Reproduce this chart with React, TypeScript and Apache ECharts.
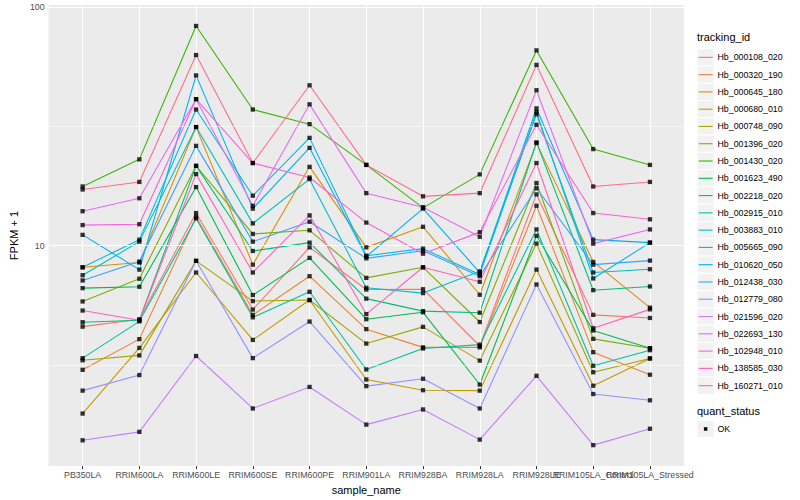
import React, { useEffect, useRef } from "react";
import * as echarts from "echarts";

const categories = [
  "PB350LA", "RRIM600LA", "RRIM600LE", "RRIM600SE", "RRIM600PE", "RRIM901LA",
  "RRIM928BA", "RRIM928LA", "RRIM928LE", "RRIM105LA_Control", "RRIM105LA_Stressed",
];

const trackingIds = [
  "Hb_000108_020", "Hb_000320_190", "Hb_000645_180", "Hb_000680_010", "Hb_000748_090",
  "Hb_001396_020", "Hb_001430_020", "Hb_001623_490", "Hb_002218_020", "Hb_002915_010",
  "Hb_003883_010", "Hb_005665_090", "Hb_010620_050", "Hb_012438_030", "Hb_012779_080",
  "Hb_021596_020", "Hb_022693_130", "Hb_102948_010", "Hb_138585_030", "Hb_160271_010",
];

const colors = [
  "#F8766D", "#EA8331", "#D89000", "#C09B00", "#A3A500",
  "#7CAE00", "#39B600", "#00BB4E", "#00BF7D", "#00C1A3",
  "#00BFC4", "#00BAE0", "#00B0F6", "#35A2FF", "#9590FF",
  "#C77CFF", "#E76BF3", "#FA62DB", "#FF62BC", "#FF6C91",
];

// FPKM + 1 per sample (same order as categories)
const hb_000108_020 = [4.58, 4.92, 13.7, 5.4, 9.84, 6.55, 6.57, 3.8, 16.4, 5.13, 4.98];
const hb_000320_190 = [3.02, 4.06, 13.2, 5.13, 7.45, 4.47, 3.75, 3.75, 14.7, 3.58, 2.88];
const hb_000645_180 = [8.12, 8.5, 31.4, 8.33, 21.4, 9.84, 12.0, 6.23, 26.9, 8.55, 5.5];
const hb_000680_010 = [1.98, 3.73, 7.72, 4.03, 5.92, 2.75, 2.48, 2.47, 7.94, 2.59, 3.37];
const hb_000748_090 = [3.31, 3.47, 8.64, 5.86, 5.92, 3.89, 4.57, 3.3, 10.2, 2.95, 3.37];
const hb_001396_020 = [5.84, 7.27, 21.6, 11.2, 11.6, 7.33, 8.12, 4.79, 18.3, 4.07, 3.72];
const hb_001430_020 = [17.7, 23.0, 83.3, 37.2, 32.3, 21.8, 14.4, 19.9, 65.8, 25.4, 21.8];
const hb_001623_490 = [6.64, 6.73, 17.6, 6.21, 8.89, 4.92, 5.26, 2.62, 11.0, 4.41, 3.72];
const hb_002218_020 = [4.78, 4.87, 21.6, 9.5, 10.3, 6.0, 5.32, 5.24, 27.1, 6.51, 6.75];
const hb_002915_010 = [3.38, 4.82, 13.0, 5.01, 6.41, 3.03, 3.71, 3.85, 11.7, 3.14, 3.65];
const hb_003883_010 = [7.52, 10.4, 31.4, 12.4, 19.0, 6.66, 6.33, 7.81, 35.5, 7.72, 7.97];
const hb_005665_090 = [8.12, 10.6, 37.2, 16.2, 28.3, 9.08, 9.72, 7.57, 36.3, 7.29, 10.3];
const hb_010620_050 = [11.1, 7.94, 51.7, 14.3, 25.7, 9.0, 14.3, 7.72, 37.6, 10.6, 10.3];
const hb_012438_030 = [7.15, 8.58, 26.2, 10.4, 12.6, 8.85, 9.53, 7.45, 17.4, 8.33, 8.66];
const hb_012779_080 = [2.47, 2.87, 8.64, 3.38, 4.81, 2.58, 2.77, 2.08, 6.88, 2.39, 2.25];
const hb_021596_020 = [1.53, 1.66, 3.45, 2.08, 2.56, 1.78, 2.06, 1.54, 2.85, 1.46, 1.71];
const hb_022693_130 = [13.95, 15.8, 41.1, 14.7, 39.1, 16.6, 14.5, 10.9, 44.8, 10.2, 11.7];
const hb_102948_010 = [12.2, 12.3, 41.1, 22.2, 19.3, 12.5, 9.26, 11.4, 32.1, 13.7, 12.9];
const hb_138585_030 = [5.35, 4.87, 19.95, 7.72, 13.4, 5.17, 8.12, 7.06, 22.2, 4.51, 5.41];
const hb_160271_010 = [17.2, 18.5, 62.9, 22.2, 47.0, 21.8, 16.1, 16.6, 57.2, 17.7, 18.5];

const seriesValues = [
  hb_000108_020, hb_000320_190, hb_000645_180, hb_000680_010, hb_000748_090,
  hb_001396_020, hb_001430_020, hb_001623_490, hb_002218_020, hb_002915_010,
  hb_003883_010, hb_005665_090, hb_010620_050, hb_012438_030, hb_012779_080,
  hb_021596_020, hb_022693_130, hb_102948_010, hb_138585_030, hb_160271_010,
];

const yMajor = [1, 2]; // log10 of 10, 100
const yMinor = [0.5, 1.5];

const FONT = "'Liberation Sans', Arial, Helvetica, sans-serif";

export default function App() {
  const ref = useRef<HTMLDivElement>(null);

  useEffect(() => {
    if (!ref.current) return;
    const chart = echarts.init(ref.current, undefined, { renderer: "svg" });

    const allLogs = seriesValues.flat().map((v) => Math.log10(v));
    const lo = Math.min(...allLogs);
    const hi = Math.max(...allLogs);
    const pad = (hi - lo) * 0.05;
    const yMin = lo - pad;
    const yMax = hi + pad;
    const nCat = categories.length;
    const catIdx = categories.map((_, i) => i);
    const evenIdx = catIdx.filter((i) => i % 2 === 0);
    const oddIdx = catIdx.filter((i) => i % 2 === 1);

    const gridLines: any[] = [
      ...yMajor.map((v) => ({ yAxis: v, lineStyle: { width: 1.1 } })),
      ...yMinor.map((v) => ({ yAxis: v, lineStyle: { width: 0.55 } })),
      ...catIdx.map((i) => ({ xAxis: i, lineStyle: { width: 1.1 } })),
    ];

    const lineSeries = seriesValues.map((vals, si) => ({
      name: trackingIds[si],
      type: "line",
      z: 3,
      showSymbol: false,
      symbol: "none",
      silent: true,
      data: vals.map((v, i) => [i, Math.log10(v)]),
      lineStyle: { color: colors[si], width: 1.1 },
      itemStyle: { color: colors[si] },
    }));

    const points = seriesValues.flatMap((vals) => vals.map((v, i) => [i, Math.log10(v)]));

    const legendRow = 17.28;
    const legendTop = 48.7;
    const legendX = 697;
    const legendGraphics: any[] = [
      {
        type: "text",
        left: legendX,
        top: 31,
        style: { text: "tracking_id", font: `11px ${FONT}`, fill: "#000" },
      },
    ];
    trackingIds.forEach((name, i) => {
      const y = legendTop + i * legendRow;
      legendGraphics.push({
        type: "rect",
        shape: { x: legendX, y, width: 17.28, height: 17.28 },
        style: { fill: "#F2F2F2", stroke: "#FFFFFF", lineWidth: 1 },
      });
      legendGraphics.push({
        type: "line",
        shape: { x1: legendX + 1.7, y1: y + 8.64, x2: legendX + 15.6, y2: y + 8.64 },
        style: { stroke: colors[i], lineWidth: 1.1 },
      });
      legendGraphics.push({
        type: "text",
        x: legendX + 20.5,
        y: y + 8.64,
        style: {
          text: name,
          font: `8.8px ${FONT}`,
          fill: "#000",
          textVerticalAlign: "middle",
          verticalAlign: "middle",
        },
      });
    });
    const qTop = 420.3;
    legendGraphics.push(
      {
        type: "text",
        left: legendX,
        top: 405,
        style: { text: "quant_status", font: `11px ${FONT}`, fill: "#000" },
      },
      {
        type: "rect",
        shape: { x: legendX, y: qTop, width: 17.28, height: 17.28 },
        style: { fill: "#F2F2F2", stroke: "#FFFFFF", lineWidth: 1 },
      },
      {
        type: "rect",
        shape: { x: legendX + 6.9, y: qTop + 6.9, width: 3.5, height: 3.5 },
        style: { fill: "#000" },
      },
      {
        type: "text",
        x: legendX + 20.5,
        y: qTop + 8.64,
        style: {
          text: "OK",
          font: `8.8px ${FONT}`,
          fill: "#000",
          textVerticalAlign: "middle",
          verticalAlign: "middle",
        },
      }
    );

    const xAxisBase = (vals: number[], withName: boolean) => ({
      type: "value",
      gridIndex: 0,
      position: "bottom",
      offset: 0,
      min: -0.6,
      max: nCat - 1 + 0.6,
      name: withName ? "sample_name" : "",
      nameLocation: "middle",
      nameGap: 11,
      nameTextStyle: { fontSize: 11, color: "#000", fontFamily: FONT },
      axisLine: { show: false },
      splitLine: { show: false },
      axisTick: {
        show: true,
        customValues: vals,
        length: 3,
        lineStyle: { color: "#333333", width: 1 },
      },
      axisLabel: {
        show: true,
        customValues: vals,
        formatter: (v: number) => categories[Math.round(v)] ?? "",
        fontSize: 8.8,
        color: "#4D4D4D",
        margin: 4,
        hideOverlap: false,
        showMinLabel: true,
        showMaxLabel: true,
        fontFamily: FONT,
      },
    });

    chart.setOption({
      animation: false,
      backgroundColor: "#FFFFFF",
      textStyle: { fontFamily: FONT },
      grid: {
        left: 40,
        right: 116,
        top: 5,
        bottom: 31,
        show: true,
        backgroundColor: "#EBEBEB",
        borderWidth: 0,
        containLabel: false,
      },
      xAxis: [xAxisBase(evenIdx, true), xAxisBase(oddIdx, false)],
      yAxis: {
        type: "value",
        min: yMin,
        max: yMax,
        name: "FPKM + 1",
        nameLocation: "middle",
        nameGap: 22,
        nameTextStyle: { fontSize: 11, color: "#000", fontFamily: FONT },
        axisLine: { show: false },
        splitLine: { show: false },
        axisTick: {
          show: true,
          customValues: yMajor,
          length: 3,
          lineStyle: { color: "#333333", width: 1 },
        },
        axisLabel: {
          show: true,
          customValues: yMajor,
          formatter: (v: number) => String(Math.round(Math.pow(10, v))),
          fontSize: 8.8,
          color: "#4D4D4D",
          margin: 4,
          showMinLabel: true,
          showMaxLabel: true,
          fontFamily: FONT,
        },
      },
      graphic: legendGraphics,
      series: [
        {
          type: "line",
          z: 1,
          silent: true,
          symbol: "none",
          showSymbol: false,
          data: [[0, (yMin + yMax) / 2]],
          lineStyle: { opacity: 0 },
          markLine: {
            silent: true,
            symbol: "none",
            label: { show: false },
            lineStyle: { color: "#FFFFFF", type: "solid" },
            emphasis: { disabled: true },
            data: gridLines,
          },
        },
        ...lineSeries,
        {
          type: "scatter",
          z: 5,
          silent: true,
          symbol: "rect",
          symbolSize: 4.3,
          itemStyle: { color: "#000000" },
          data: points,
        },
      ],
    });

    return () => chart.dispose();
  }, []);

  return (
    <div
      ref={ref}
      style={{ position: "fixed", left: 0, top: 0, width: 800, height: 500, background: "#fff" }}
    />
  );
}
